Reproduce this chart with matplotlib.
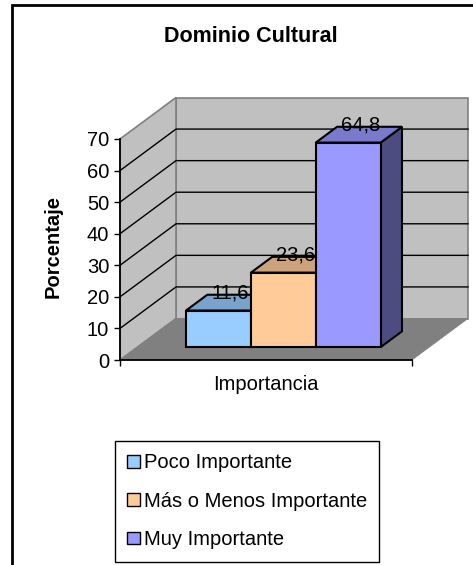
import numpy as np
import matplotlib

matplotlib.use("Agg")
import matplotlib.pyplot as plt
from matplotlib.patches import Polygon, Patch, Rectangle

plt.rcParams["font.family"] = ["Liberation Sans", "DejaVu Sans"]

# data
title = "Dominio Cultural"
category = "Importancia"
series = ["Poco Importante", "Más o Menos Importante", "Muy Importante"]
values = [11.6, 23.6, 64.8]
y_ticks = [0, 10, 20, 30, 40, 50, 60, 70]

face_colors = ["#99CCFF", "#FFCC99", "#9999FF"]
top_colors = ["#7AA3CC", "#CCA37A", "#7A7ACC"]
side_colors = ["#4C6680", "#80664C", "#4C4C80"]

W, H = 473, 565
fig = plt.figure(figsize=(W / 100, H / 100), dpi=100)

# front plane of the 3D box, in pixels
px_left, px_right, px_bottom, px_top = 120, 412, 360, 139
ax = fig.add_axes([px_left / W, (H - px_bottom) / H,
                   (px_right - px_left) / W, (px_bottom - px_top) / H])
ax.patch.set_visible(False)

xmin, xmax = -1.25, 3.25
ymin, ymax = 0, 70
ax.set_xlim(xmin, xmax)
ax.set_ylim(ymin, ymax)

# depth vector (full depth) in pixels -> data units
depth_px = (56.0, 41.5)
ddx = depth_px[0] * (xmax - xmin) / (px_right - px_left)
ddy = depth_px[1] * (ymax - ymin) / (px_bottom - px_top)


def P(x, y, d):
    return (x + d * ddx, y + d * ddy)


def poly(pts, fc, ec, lw=1.0, z=1):
    ax.add_patch(Polygon(pts, closed=True, facecolor=fc, edgecolor=ec,
                         linewidth=lw, clip_on=False, zorder=z, joinstyle="miter"))


wall = "#C0C0C0"
wall_edge = "#808080"
# back wall, left wall, floor
poly([P(xmin, ymin, 1), P(xmax, ymin, 1), P(xmax, ymax, 1), P(xmin, ymax, 1)], wall, wall_edge, 1.2)
poly([P(xmin, ymin, 0), P(xmin, ymin, 1), P(xmin, ymax, 1), P(xmin, ymax, 0)], wall, wall_edge, 1.2)
poly([P(xmin, ymin, 0), P(xmax, ymin, 0), P(xmax, ymin, 1), P(xmin, ymin, 1)], "#808080", "#808080", 0.5)

# gridlines on walls
for t in y_ticks[1:-1]:
    xs, ys = zip(P(xmin, t, 0), P(xmin, t, 1), P(xmax, t, 1))
    ax.plot(xs, ys, color="black", lw=1.0, clip_on=False, zorder=1.5)

# bars
f0, f1 = 0.31, 0.69
for i, v in enumerate(values):
    x0, x1 = i - 0.5, i + 0.5
    poly([P(x1, 0, f0), P(x1, v, f0), P(x1, v, f1), P(x1, 0, f1)], side_colors[i], "black", 1.5, 3)
    poly([P(x0, v, f0), P(x1, v, f0), P(x1, v, f1), P(x0, v, f1)], top_colors[i], "black", 1.5, 3)
    poly([P(x0, 0, f0), P(x1, 0, f0), P(x1, v, f0), P(x0, v, f0)], face_colors[i], "black", 1.5, 3)
    ax.annotate(f"{v:.1f}".replace(".", ","), xy=(i, v), xytext=(29.5, 30.5),
                textcoords="offset pixels", ha="center", va="center",
                fontsize=14.5, color="black", zorder=5, annotation_clip=False)

# axes
for s in ["top", "right"]:
    ax.spines[s].set_visible(False)
for s in ["left", "bottom"]:
    ax.spines[s].set_color("black")
    ax.spines[s].set_linewidth(1.3)
    ax.spines[s].set_zorder(4)
ax.set_yticks(y_ticks)
ax.set_yticklabels([str(t) for t in y_ticks])
ax.set_xticks([xmin, xmax])
ax.set_xticklabels(["", ""])
ax.tick_params(axis="both", direction="out", length=4.3, width=1.0, color="black")
ax.tick_params(axis="y", labelsize=14.5, pad=3.5)

fig.text(266 / W, 1 - 385 / H, category, ha="center", va="center", fontsize=14.5)
fig.text(53 / W, 1 - 247 / H, "Porcentaje", rotation=90, ha="center", va="center",
         fontsize=14.5, fontweight="bold")
fig.text(251 / W, 1 - 37 / H, title, ha="center", va="center", fontsize=15.5, fontweight="bold")

handles = [Patch(facecolor=c, edgecolor="black", linewidth=1.0) for c in face_colors]
leg = fig.legend(handles, series, loc="upper left", bbox_to_anchor=(115 / W, 1 - 441 / H),
                 fontsize=14.5, frameon=True, fancybox=False, framealpha=1, edgecolor="black",
                 handlelength=0.6, handleheight=0.6, handletextpad=0.2,
                 labelspacing=0.96, borderpad=0.62, borderaxespad=0)
leg.get_frame().set_linewidth(1.0)

# outer chart frame
fig.patches.append(Rectangle((12 / W, -0.1), 1.2, (H - 5) / H + 0.1, transform=fig.transFigure,
                             fill=False, edgecolor="black", linewidth=2.0))

fig.savefig("out.png", dpi=100)
